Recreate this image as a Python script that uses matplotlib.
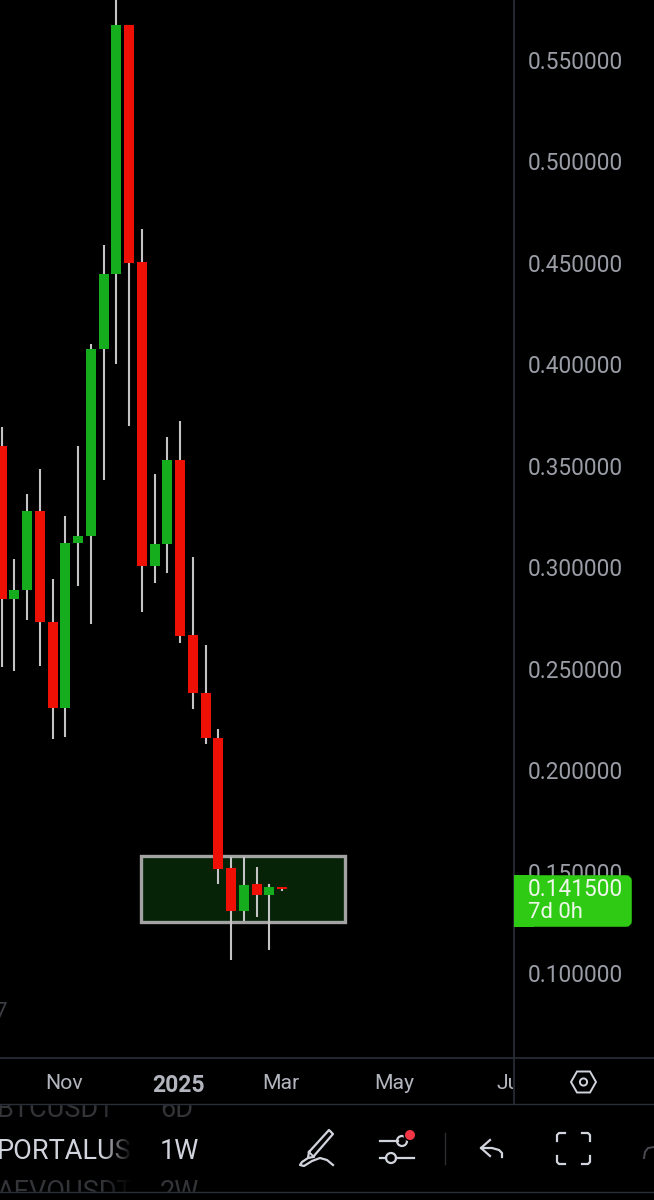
import numpy as np
import matplotlib
matplotlib.use('Agg')
import matplotlib.pyplot as plt
from matplotlib.patches import Rectangle, FancyBboxPatch, Circle, Polygon
from matplotlib.transforms import Bbox

plt.rcParams['font.family'] = ['Roboto', 'DejaVu Sans']

opens = [0.3597, 0.2843, 0.2888, 0.3277, 0.2730, 0.2306, 0.3119, 0.3154, 0.4076, 0.4445, 0.5673, 0.4505,
         0.3006, 0.3114, 0.3529, 0.2666, 0.2380, 0.2158, 0.1518, 0.1306, 0.1439, 0.1385, 0.1422]
closes = [0.2843, 0.2888, 0.3277, 0.2730, 0.2306, 0.3119, 0.3154, 0.4076, 0.4445, 0.5673, 0.4500, 0.3006,
          0.3114, 0.3529, 0.2661, 0.2380, 0.2158, 0.1513, 0.1306, 0.1434, 0.1385, 0.1424, 0.1413]
highs = [0.3691, 0.3041, 0.3361, 0.3484, 0.2942, 0.3253, 0.3597, 0.4100, 0.4588, 0.5845, 0.5673, 0.4667,
         0.3460, 0.3642, 0.3721, 0.3050, 0.2617, 0.2203, 0.1572, 0.1572, 0.1522, 0.1439, 0.1425]
lows = [0.2508, 0.2489, 0.2740, 0.2513, 0.2153, 0.2163, 0.2907, 0.2720, 0.3430, 0.4002, 0.3696, 0.2779,
        0.2922, 0.2972, 0.2627, 0.2301, 0.2129, 0.1439, 0.1064, 0.1256, 0.1276, 0.1113, 0.1402]

price_ticks = [0.10, 0.15, 0.20, 0.25, 0.30, 0.35, 0.40, 0.45, 0.50, 0.55]
month_pos = [4.9, 13.9, 21.9, 30.8, 39.9]
month_labels = ['Nov', '2025', 'Mar', 'May', 'Jul']
box_weeks = [10.93, 26.93]
box_prices = [0.1253, 0.1577]

RED = '#ee1005'
GREEN = '#15ad1e'
WICK = '#c4c4c7'
GRID = '#2a2e39'
TXT = '#9a9da6'
ICON = '#d1d4dc'
GHOST = '#323438'

fig = plt.figure(figsize=(6.54, 12), dpi=100, facecolor='black')
ax = fig.add_axes([0, (1200 - 1058) / 1200, 513.5 / 654, 1058 / 1200])
ax.set_facecolor('black')
ax.set_xlim(-0.133, 40.14)
ax.set_ylim(0.0581, 0.5796)
for s in ax.spines.values():
    s.set_visible(False)

# highlighted zone
ax.add_patch(Rectangle((box_weeks[0], box_prices[0]), box_weeks[1] - box_weeks[0], box_prices[1] - box_prices[0],
                       facecolor='#062207', edgecolor='#a3a3a3', linewidth=2.4, zorder=1))

x = np.arange(len(opens))
o, c = np.array(opens), np.array(closes)
colors = [GREEN if b > a else RED for a, b in zip(opens, closes)]
ax.vlines(x, lows, highs, color=WICK, linewidth=1.5, zorder=2)
ax.bar(x, np.abs(c - o), bottom=np.minimum(o, c), width=0.78, color=colors, zorder=3)

ax.yaxis.tick_right()
ax.set_yticks(price_ticks)
ax.set_yticklabels(['%.6f' % p for p in price_ticks])
ax.tick_params(axis='y', length=0, pad=10.5, labelsize=16.3, labelcolor=TXT)
ax.set_xticks(month_pos)
ax.set_xticklabels(month_labels)
ax.tick_params(axis='x', length=0, pad=11.5, labelsize=15.3, labelcolor='#b2b5be')
for lab in ax.get_xticklabels():
    lab.set_clip_on(True)
    lab.set_clip_box(Bbox([[0, 0], [513, 1200]]))
    if lab.get_text() == '2025':
        lab.set_fontweight('bold')
        lab.set_fontsize(16.5)

# toolbar and price tag, in pixel coordinates
ui = fig.add_axes([0, 0, 1, 1])
ui.patch.set_alpha(0)
ui.axis('off')

ui.text(-6, 1018, '7', color='#3c3e44', fontsize=16)

# symbol list behind the toolbar
ui.text(-3, 1117, 'BTCUSDT', color=GHOST, fontsize=19.5)
ui.text(160, 1117, '6D', color=GHOST, fontsize=19.5, zorder=4.5)
ui.text(-3, 1159, 'PORTALUSDT', color='#d1d4dc', fontsize=19.5)
ui.text(160, 1159, '1W', color='#d1d4dc', fontsize=19.5, zorder=4.5)
ui.text(-3, 1200, 'AEVOUSDT', color=GHOST, fontsize=19.5)
ui.text(160, 1200, '2W', color=GHOST, fontsize=19.5, zorder=4.5)
fade = np.zeros((1, 40, 4))
fade[0, :, 3] = np.linspace(0, 1, 40)
ui.imshow(fade, extent=(102, 132, 1192, 1104), aspect='auto', zorder=4)
ui.add_patch(Rectangle((132, 1104), 48, 88, color='black', zorder=4))
ui.add_patch(Rectangle((0, 1192), 654, 8, color='black', zorder=5))
ui.add_patch(Rectangle((0, 1093), 220, 11, color='black', zorder=5))

ui.plot([513.5, 513.5], [0, 1104], color=GRID, lw=1.2, zorder=6)
ui.plot([0, 654], [1058, 1058], color=GRID, lw=1.2, zorder=6)
ui.plot([0, 654], [1104, 1104], color=GRID, lw=1, zorder=6)
ui.plot([0, 654], [1192, 1192], color=GRID, lw=1, zorder=6)

# current price tag
ui.add_patch(Rectangle((514, 875), 20, 52, facecolor='#2fcb14', edgecolor='none', zorder=7))
ui.add_patch(FancyBboxPatch((518, 878), 111, 46, boxstyle='round,pad=0,rounding_size=3', mutation_aspect=1,
                            facecolor='#2fcb14', edgecolor='#2fcb14', linewidth=4, zorder=7))
ui.text(528, 890, '0.141500', color='#eef7ea', fontsize=16.3, va='center', zorder=8)
ui.text(528, 913, '7d 0h', color='#eef7ea', fontsize=15.8, va='center', zorder=8)

# hexagon settings icon
ui.add_patch(Polygon([[571, 1082], [577, 1071.5], [590, 1071.5], [596, 1082], [590, 1092.5], [577, 1092.5]],
                     closed=True, fill=False, edgecolor=ICON, lw=1.4, zorder=8))
ui.add_patch(Circle((583.5, 1082), 3.6, fill=False, edgecolor=ICON, lw=1.4, zorder=8))

# pencil
ui.plot([309, 329, 333, 313, 308, 309], [1152, 1130, 1134, 1157, 1158, 1152], color=ICON, lw=1.6, zorder=8)
ui.plot([309, 314], [1152, 1157], color=ICON, lw=1.4, zorder=8)
ui.plot([308, 302, 300, 304, 312, 320, 327, 333], [1158, 1162, 1165, 1166, 1161, 1158, 1160, 1165],
        color=ICON, lw=1.6, zorder=8)

# sliders
ui.plot([380, 398], [1141, 1141], color=ICON, lw=1.6, zorder=8)
ui.plot([380, 386], [1158, 1158], color=ICON, lw=1.6, zorder=8)
ui.plot([396, 414], [1158, 1158], color=ICON, lw=1.6, zorder=8)
ui.add_patch(Circle((391, 1158), 5, fill=False, edgecolor=ICON, lw=1.6, zorder=8))
ui.add_patch(Circle((402, 1141), 5, fill=False, edgecolor=ICON, lw=1.6, zorder=8))
ui.add_patch(Circle((410, 1135), 6.5, facecolor='black', edgecolor='none', zorder=8.5))
ui.add_patch(Circle((410, 1135), 5, facecolor='#f23645', edgecolor='none', zorder=9))
ui.plot([444.5, 444.5], [1133, 1164], color='#2b2d33', lw=1, zorder=8)

# undo arrow
ui.plot([490, 481, 490], [1140, 1148, 1156], color=ICON, lw=1.6, zorder=8)
ui.plot([481, 492, 499, 502, 502], [1148, 1148, 1150, 1153, 1157], color=ICON, lw=1.6, zorder=8)

# fullscreen corners
for cx, cy, dx, dy in [(557, 1133, 1, 1), (590, 1133, -1, 1), (557, 1164, 1, -1), (590, 1164, -1, -1)]:
    ui.plot([cx + 8 * dx, cx + 2 * dx, cx, cx], [cy, cy, cy + 2 * dy, cy + 8 * dy], color=ICON, lw=1.6, zorder=8)

ui.plot([654, 648, 645, 644], [1147, 1148, 1152, 1158], color='#4a4c52', lw=1.4, zorder=8)

ui.set_xlim(0, 654)
ui.set_ylim(1200, 0)

fig.savefig('out.png', dpi=100, facecolor='black')
